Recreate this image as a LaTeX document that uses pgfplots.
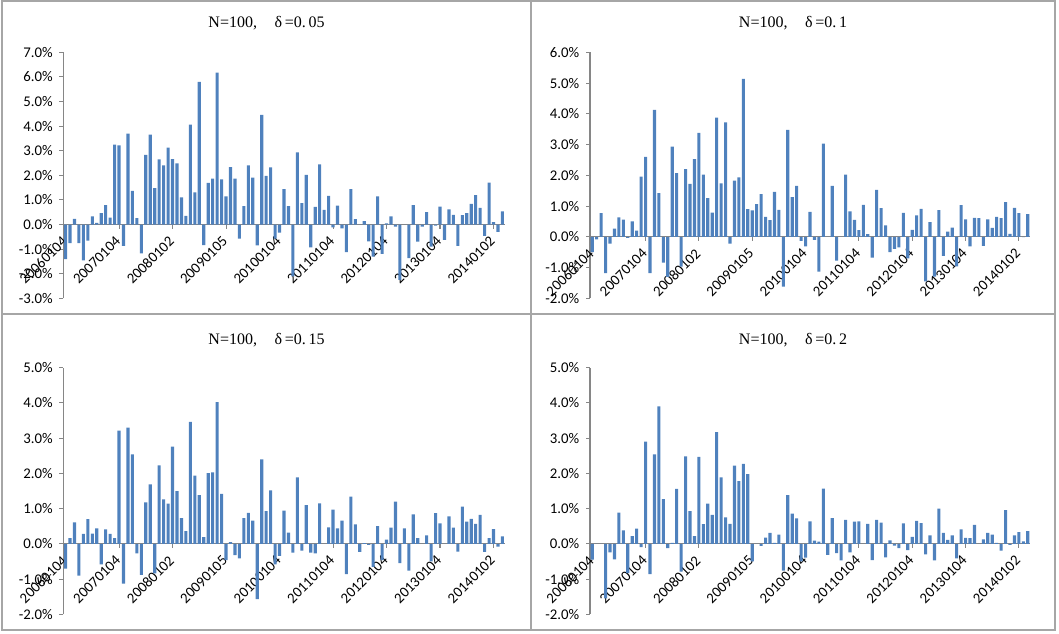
\documentclass[border=0pt]{standalone}
\usepackage{fontspec}
\setmainfont{Carlito}
\newfontfamily\titlefont{Liberation Serif}
\usepackage{pgfplots}
\usepackage{pgfplotstable}
\pgfplotsset{compat=1.18}

\definecolor{barblue}{HTML}{4F81BD}
\definecolor{axisgray}{HTML}{868686}
\definecolor{framegray}{HTML}{A6A6A6}

% monthly excess returns (%), N=100, one column per delta
\pgfplotstableread{
i  d05   d10   d15   d20
0  -1.41 -0.50 -0.70 -0.45
1  -0.76 -0.08  0.16  0.00
2   0.23  0.77  0.61  0.00
3  -0.76 -1.18 -0.90 -1.55
4  -1.46 -0.22  0.28 -0.24
5  -0.65  0.27  0.70 -0.44
6   0.33  0.63  0.29  0.89
7   0.07  0.56  0.44  0.38
8   0.46 -0.03 -0.58 -0.83
9   0.79  0.50  0.41  0.22
10  0.28  0.20  0.28  0.43
11  3.25  1.96  0.16 -0.09
12  3.22  2.60  3.21  2.90
13 -0.87 -1.18 -1.13 -0.86
14  3.70  4.13  3.30  2.54
15  1.37  1.42  2.54  3.90
16  0.26 -0.84 -0.27  1.27
17 -1.17 -1.30 -0.88 -0.12
18  2.83  2.93  1.18  0.03
19  3.66  2.07  1.69  1.56
20  1.48 -0.97 -0.84 -0.79
21  2.65  2.20  2.23  2.48
22  2.41  1.72  1.26  0.93
23  3.13  2.53  1.14  0.22
24  2.66  3.38  2.76  2.47
25  2.49  2.02  1.50  0.56
26  1.10  1.26  0.73  1.14
27  0.35  0.79  0.36  0.82
28  4.06  3.88  3.46  3.17
29  1.31  1.74  1.94  1.89
30  5.80  3.72  1.38  0.75
31 -0.84 -0.22  0.19  0.57
32  1.69  1.83  2.01  2.22
33  1.87  1.93  2.03  1.78
34  6.18  5.14  4.02  2.27
35  1.84  0.90  1.42  1.98
36  1.14  0.86 -0.46 -0.50
37  2.33  1.06  0.05  0.00
38  1.87  1.39 -0.32 -0.06
39 -0.57  0.65 -0.41  0.18
40  0.75  0.54  0.73  0.31
41  2.41  1.46  0.88  0.03
42  1.91  0.88  0.66  0.26
43 -0.85 -1.62 -1.57 -0.76
44  4.46  3.48  2.40  1.38
45  1.98  1.29  0.93  0.86
46  2.32  1.66  1.52  0.72
47 -0.57 -0.13 -0.58 -0.50
48 -0.33 -0.31 -0.34 -0.39
49  1.44  0.81  0.94  0.64
50  0.75 -0.10  0.32  0.09
51 -2.11 -1.13 -0.25  0.06
52  2.93  3.03  1.89  1.57
53  0.87  0.00 -0.19 -0.31
54  2.02  1.66  1.10  0.73
55 -0.93 -0.77 -0.25 -0.26
56  0.72  0.00 -0.27 -0.47
57  2.45  2.02  1.15  0.68
58  0.60  0.83  0.00 -0.24
59  1.17  0.55  0.47  0.63
60 -0.12  0.22  0.97  0.64
61  0.77  1.04  0.44  0.00
62 -0.16  0.09  0.66  0.57
63 -1.12 -0.68 -0.86 -0.46
64  1.44  1.53  1.34  0.68
65  0.22  0.93  0.55  0.60
66  0.00  0.37 -0.23 -0.38
67  0.14 -0.50  0.02  0.10
68 -0.68 -0.39 -0.03 -0.05
69 -1.30 -0.34 -0.65 -0.12
70  1.14  0.78  0.50  0.58
71 -1.19 -0.70 -0.46 -0.18
72  0.05  0.23  0.12  0.20
73  0.33  0.70  0.46  0.65
74 -0.08  0.91  1.20  0.59
75 -2.25 -1.45 -0.55 -0.30
76  0.00  0.48  0.44  0.24
77 -1.37 -1.29 -0.76 -0.47
78  0.79  0.87  0.84  1.00
79 -0.69 -0.62  0.16  0.31
80 -0.08  0.17  0.00  0.11
81  0.50  0.30  0.24  0.24
82 -0.90 -0.96 -0.50 -0.41
83 -0.04  1.03  0.87  0.41
84  0.73  0.57  0.58  0.17
85 -0.62 -0.31  0.00  0.16
86  0.62  0.62  0.78  0.54
87  0.39  0.61  0.46  0.00
88 -0.87 -0.29 -0.22  0.13
89  0.38  0.57  1.06  0.31
90  0.46  0.29  0.63  0.26
91  0.84  0.65  0.71  0.03
92  1.20  0.61  0.57 -0.19
93  0.68  1.13  0.82  0.96
94 -0.46  0.10 -0.23 -0.03
95  1.70  0.94  0.16  0.24
96  0.10  0.77  0.42  0.33
97 -0.30 -0.01 -0.08  0.07
98  0.53  0.74  0.21  0.36
}\ret

\pgfplotsset{
  panel/.style={
    scale only axis,
    anchor=south west,
    width=331pt,
    xmin=-0.5, xmax=98.5,
    axis x line=middle,
    axis y line=left,
    axis line style={axisgray, line width=0.8pt, -},
    hide obscured x ticks=false,
    hide obscured y ticks=false,
    xtick={0,12,...,96},
    xticklabels={20060104,20070104,20080102,20090105,20100104,20110104,20120104,20130104,20140102},
    tick style={axisgray, line width=0.8pt},
    major tick length=3pt,
    tick align=outside,
    xticklabel shift=7pt,
    xticklabel style={rotate=45, anchor=east, font=\fontsize{11.1}{13}\selectfont, inner sep=1pt},
    yticklabel style={font=\fontsize{11.1}{13}\selectfont},
    yticklabel shift=1.5pt,
    clip=false,
  },
  bars/.style={ybar, fill=barblue, draw=none, bar width=0.7},
}

\begin{document}
\begin{tikzpicture}
\useasboundingbox (0,0) rectangle (794.25pt,474.75pt);

% frame of the four charts
\draw[framegray, line width=1.2pt] (1.5pt,2.25pt) rectangle (791.25pt,474pt);
\draw[framegray, line width=1.2pt] (398.25pt,2.25pt) -- (398.25pt,474pt);
\draw[framegray, line width=1.2pt] (1.5pt,239.25pt) -- (791.25pt,239.25pt);

\begin{axis}[panel, at={(47.5pt,251pt)}, height=184.5pt,
  ymin=-3, ymax=7, ytick={-3,...,7},
  yticklabels={-3.0\%,-2.0\%,-1.0\%,0.0\%,1.0\%,2.0\%,3.0\%,4.0\%,5.0\%,6.0\%,7.0\%}]
  \addplot[bars] table[x=i, y=d05] {\ret};
\end{axis}

\begin{axis}[panel, at={(442.5pt,251pt)}, width=330pt, height=184.5pt,
  ymin=-2, ymax=6, ytick={-2,...,6},
  yticklabels={-2.0\%,-1.0\%,0.0\%,1.0\%,2.0\%,3.0\%,4.0\%,5.0\%,6.0\%}]
  \addplot[bars] table[x=i, y=d10] {\ret};
\end{axis}

\begin{axis}[panel, at={(47.5pt,14pt)}, height=185pt,
  ymin=-2, ymax=5, ytick={-2,...,5},
  yticklabels={-2.0\%,-1.0\%,0.0\%,1.0\%,2.0\%,3.0\%,4.0\%,5.0\%}]
  \addplot[bars] table[x=i, y=d15] {\ret};
\end{axis}

\begin{axis}[panel, at={(442.5pt,14pt)}, width=330pt, height=185pt,
  ymin=-2, ymax=5, ytick={-2,...,5},
  yticklabels={-2.0\%,-1.0\%,0.0\%,1.0\%,2.0\%,3.0\%,4.0\%,5.0\%}]
  \addplot[bars] table[x=i, y=d20] {\ret};
\end{axis}

% chart titles
\node[font=\titlefont\fontsize{12}{14}\selectfont] at (199.9pt,457.5pt) {N=100,\hspace{1.1em}δ\,=0.\,05};
\node[font=\titlefont\fontsize{12}{14}\selectfont] at (594.75pt,457.5pt) {N=100,\hspace{1.1em}δ\,=0.\,1};
\node[font=\titlefont\fontsize{12}{14}\selectfont] at (199.9pt,220pt) {N=100,\hspace{1.1em}δ\,=0.\,15};
\node[font=\titlefont\fontsize{12}{14}\selectfont] at (594.75pt,220pt) {N=100,\hspace{1.1em}δ\,=0.\,2};
\end{tikzpicture}
\end{document}
